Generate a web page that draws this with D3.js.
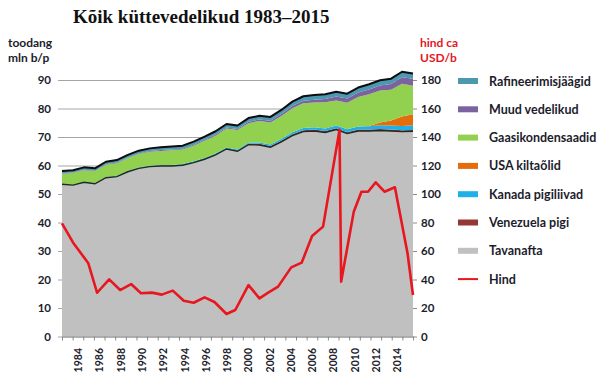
<!DOCTYPE html>
<html>
<head>
<meta charset="utf-8">
<script src="https://cdn.jsdelivr.net/npm/d3@7"></script>
<style>
  body { margin: 0; background: #fff; }
  text { font-family: Lato, "Open Sans", sans-serif; font-weight: bold; }
</style>
</head>
<body>
<div id="chart"></div>
<script>
// --- data ---
const years = [1983,1984,1985,1986,1987,1988,1989,1990,1991,1992,1993,1994,1995,1996,1997,1998,1999,
               2000,2001,2002,2003,2004,2005,2006,2007,2008,2009,2010,2011,2012,2013,2014,2015];

// mln b/p, stacked bottom -> top
const tavanafta = [53.4,53.1,54.1,53.6,55.7,56.1,57.8,59.0,59.6,59.8,59.8,60.1,61.0,62.2,63.7,65.8,65.0,
                   67.3,67.2,66.4,68.3,70.5,71.9,72.1,71.6,72.6,71.2,72.1,72.1,72.3,72.1,71.9,72.0];
const venezuela = [0.05,0.05,0.05,0.05,0.05,0.05,0.05,0.05,0.05,0.05,0.05,0.1,0.1,0.1,0.1,0.15,0.2,
                   0.3,0.4,0.45,0.5,0.5,0.5,0.5,0.5,0.5,0.5,0.5,0.5,0.5,0.5,0.5,0.5];
const kanada    = [0.15,0.18,0.2,0.2,0.22,0.24,0.25,0.25,0.26,0.28,0.3,0.32,0.35,0.36,0.38,0.4,0.42,
                   0.45,0.5,0.55,0.6,0.7,0.75,0.8,0.85,0.9,1.0,1.1,1.2,1.3,1.4,1.5,1.6];
const usa       = [0,0,0,0,0,0,0,0,0,0,0,0,0,0,0,0,0,
                   0,0,0,0,0,0,0,0,0,0,0,0.1,1.0,1.8,3.3,3.9];
const gaasi     = [3.5,4.0,4.0,4.1,4.3,4.4,4.5,4.7,4.9,5.0,5.2,5.1,5.5,6.0,6.3,6.6,6.8,
                   6.8,7.5,7.7,8.0,8.4,8.7,8.7,9.2,8.8,9.3,10.3,11.1,11.2,10.8,11.5,10.0];
const muud      = [0.2,0.2,0.2,0.2,0.2,0.22,0.22,0.25,0.25,0.28,0.3,0.3,0.32,0.35,0.38,0.4,0.42,
                   0.5,0.55,0.6,0.7,0.8,0.9,1.0,1.2,1.4,1.5,1.6,1.7,1.8,2.0,2.3,2.4];
const rafin     = [0.8,0.8,0.8,0.85,0.85,0.9,0.9,0.95,0.95,1.0,1.0,1.05,1.1,1.1,1.15,1.2,1.2,
                   1.3,1.3,1.35,1.4,1.5,1.55,1.6,1.65,1.7,1.7,1.75,1.8,1.8,1.85,1.9,1.9];

// price, USD/b (right axis)
const hindYears  = [1983,1984,1985.4,1986.2,1987.3,1988.3,1989.3,1990.2,1991.2,1992.1,1993.1,1994.1,1995,1996,1996.9,
                    1998,1998.8,2000,2001,2001.8,2002.7,2003.9,2004.85,2005.8,2006.8,2008.3,2008.45,2009.6,
                    2010.3,2010.9,2011.6,2012.4,2013.35,2014.5,2015];
const hindValues = [79.4,66.0,51.4,30.7,40.1,32.6,36.8,30.3,30.8,29.4,32.2,25.1,23.7,27.5,24.2,
                    15.8,18.6,36.1,26.8,30.8,35.0,48.5,51.8,70.5,77.1,145,38.5,87.6,
                    101.6,101.6,108.2,101.6,104.7,58.4,29.1];

const leftTicks = [0,10,20,30,40,50,60,70,80,90];
const rightTicks = [0,20,40,60,80,100,120,140,160,180];
const xLabelYears = [1984,1986,1988,1990,1992,1994,1996,1998,2000,2002,2004,2006,2008,2010,2012,2014];

const series = [
  {key: "tavanafta", name: "Tavanafta",          color: "#c0c0c0", values: tavanafta},
  {key: "venezuela", name: "Venezuela pigi",     color: "#953735", values: venezuela},
  {key: "kanada",    name: "Kanada pigiliivad",  color: "#1fb0e8", values: kanada},
  {key: "usa",       name: "USA kiltaõlid",      color: "#e46c0a", values: usa},
  {key: "gaasi",     name: "Gaasikondensaadid",  color: "#92d050", values: gaasi},
  {key: "muud",      name: "Muud vedelikud",     color: "#7d62a0", values: muud},
  {key: "rafin",     name: "Rafineerimisjäägid", color: "#4b98b0", values: rafin}
];

const table = years.map((yr, i) => {
  const row = {year: yr};
  series.forEach(s => { row[s.key] = s.values[i]; });
  return row;
});

// --- layout ---
const W = 600, H = 388;
const x0 = 62, x1 = 413, yBase = 336.5, yTop = 51.5;
const ink = "#1c1c2c";

const svg = d3.select("#chart").append("svg")
    .attr("width", W).attr("height", H);

const x = d3.scaleLinear().domain([years[0], years[years.length - 1]]).range([x0, x1]);
const xCat = d3.scaleLinear().domain([years[0] - 0.5, years[years.length - 1] + 0.5]).range([x0, x1]);
const y = d3.scaleLinear().domain([0, 100]).range([yBase, yTop]);
const yR = d3.scaleLinear().domain([0, 200]).range([yBase, yTop]);

// title
svg.append("text")
    .attr("x", 73).attr("y", 23)
    .style("font-family", "'Liberation Serif', serif")
    .style("font-size", "19px")
    .attr("fill", "#111")
    .text("Kõik küttevedelikud 1983–2015");

// axis titles
svg.append("text").attr("x", 8).attr("y", 47).attr("fill", ink)
    .style("font-size", "12px").text("toodang");
svg.append("text").attr("x", 8).attr("y", 62).attr("fill", ink)
    .style("font-size", "12px").text("mln b/p");
svg.append("text").attr("x", 420).attr("y", 47).attr("fill", "#e3171f")
    .style("font-size", "12px").text("hind ca");
svg.append("text").attr("x", 420).attr("y", 62).attr("fill", "#e3171f")
    .style("font-size", "12px").text("USD/b");

// gridlines + left axis
const gLeft = svg.append("g").attr("transform", "translate(58,0)")
    .call(d3.axisLeft(y).tickValues(leftTicks).tickSize(-(x1 - 58)).tickPadding(7));
gLeft.select(".domain").remove();
gLeft.selectAll("line").attr("stroke", "#a6a6a6");
gLeft.selectAll("text").style("font-size", "11.5px").style("font-family", "Lato, sans-serif")
    .attr("fill", ink);

// stacked areas
const stack = d3.stack().keys(series.map(s => s.key));
const layers = stack(table);

const area = d3.area()
    .x(d => x(d.data.year))
    .y0(d => y(d[0]))
    .y1(d => y(d[1]));

svg.append("g").selectAll("path")
  .data(layers)
  .enter().append("path")
    .attr("d", area)
    .attr("fill", (d, i) => series[i].color);

const edge = d3.line().x(d => x(d.data.year)).y(d => y(d[1]));
svg.append("path").datum(layers[0]).attr("d", edge)
    .attr("fill", "none").attr("stroke", "#1e2a22").attr("stroke-width", 1.4);
svg.append("path").datum(layers[layers.length - 1]).attr("d", edge)
    .attr("fill", "none").attr("stroke", "#0d0d0d").attr("stroke-width", 2)
    .attr("stroke-linejoin", "round");

// x axis: ticks between categories, labels at category centres
const tickBounds = d3.range(years[0] - 0.5, years[years.length - 1] + 1, 1);
const gX = svg.append("g").attr("transform", "translate(0," + yBase + ")")
    .call(d3.axisBottom(xCat).tickValues(tickBounds).tickSize(4).tickSizeOuter(0).tickFormat(""));
gX.selectAll("line").attr("stroke", "#8c8c8c");
gX.select(".domain").attr("stroke", "#8c8c8c");

const gXL = svg.append("g").attr("transform", "translate(0," + yBase + ")")
    .call(d3.axisBottom(xCat).tickValues(xLabelYears).tickSize(0).tickFormat(d3.format("d")));
gXL.select(".domain").remove();
gXL.selectAll("text")
    .attr("transform", "rotate(-90)")
    .attr("text-anchor", "end")
    .attr("x", -11.5).attr("y", 0).attr("dy", "0.35em")
    .style("font-size", "10.5px").style("font-family", "Lato, sans-serif")
    .attr("fill", ink);

// right axis
const gRight = svg.append("g").attr("transform", "translate(" + x1 + ",0)")
    .call(d3.axisRight(yR).tickValues(rightTicks).tickSize(4).tickPadding(4));
gRight.select(".domain").remove();
gRight.selectAll("line").attr("stroke", "#8c8c8c");
gRight.selectAll("text").style("font-size", "11.5px").style("font-family", "Lato, sans-serif")
    .attr("fill", ink);

// price line
const hind = hindYears.map((yr, i) => ({year: yr, v: hindValues[i]}));
svg.append("path").datum(hind)
    .attr("d", d3.line().x(d => x(d.year)).y(d => yR(d.v)))
    .attr("fill", "none")
    .attr("stroke", "#e8161f")
    .attr("stroke-width", 2.6)
    .attr("stroke-linejoin", "round");

// legend
const legendItems = series.slice().reverse().concat([{name: "Hind", color: "#e8161f", line: true}]);
const lg = svg.append("g").selectAll("g")
  .data(legendItems)
  .enter().append("g")
    .attr("transform", (d, i) => "translate(458," + (81 + i * 28.3) + ")");
lg.filter(d => !d.line).append("rect")
    .attr("x", 0).attr("y", -3).attr("width", 20).attr("height", 6)
    .attr("fill", d => d.color);
lg.filter(d => d.line).append("line")
    .attr("x1", 0).attr("x2", 20).attr("y1", 0).attr("y2", 0)
    .attr("stroke", d => d.color).attr("stroke-width", 2);
lg.append("text")
    .attr("x", 31).attr("y", 0).attr("dy", "0.36em")
    .style("font-size", "12.5px")
    .attr("fill", ink)
    .text(d => d.name);
</script>
</body>
</html>
